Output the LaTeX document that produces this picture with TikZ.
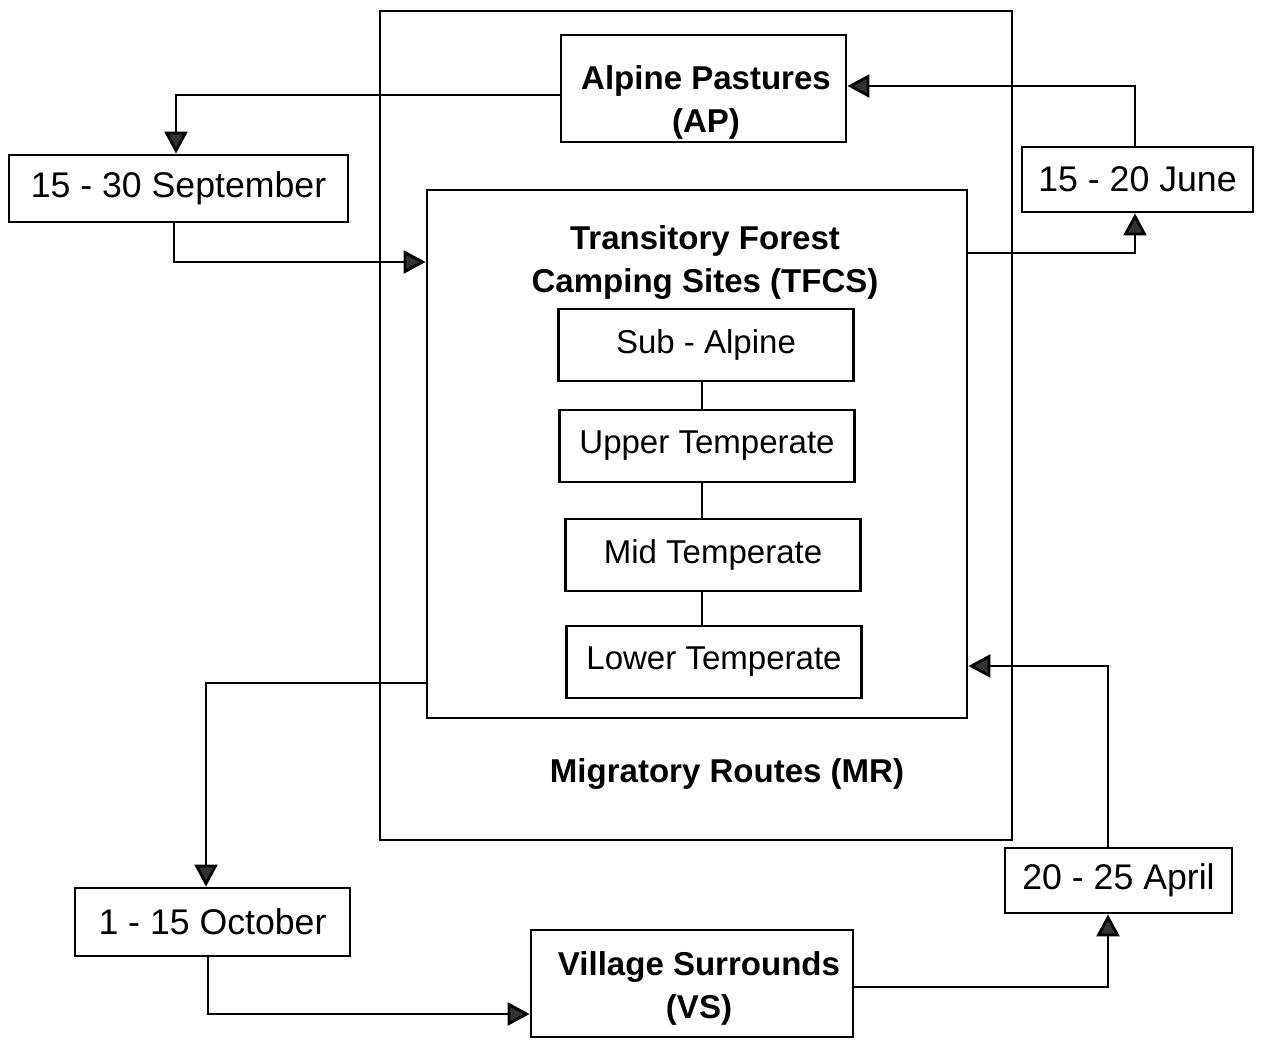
\documentclass[tikz,border=0pt]{standalone}
\usepackage{fontspec}
\setmainfont{Liberation Sans}
\usetikzlibrary{arrows.meta}

\tikzset{
    size/.style 2 args={minimum width=#1*0.02cm, minimum height=#2*0.02cm},
    box/.style={draw, line width=1.6pt, inner sep=0pt, align=center},
    datebox/.style={box, font=\fontsize{20.3}{24}\selectfont},
    zone/.style={box, size={295}{72}, font=\fontsize{18.8}{23}\selectfont},
    title/.style={align=center, font=\bfseries\fontsize{18.8}{24.5}\selectfont},
    flow/.style={line width=1.6pt, -{Triangle[length=12.5pt, width=13pt, fill=black!80]}}
}

\begin{document}
\begin{tikzpicture}[x=0.02cm, y=-0.02cm]
    \useasboundingbox (0,0) rectangle (1264,1044);

    % outer and inner frames
    \node[box, size={632}{829}] (mr) at (696,425.5) {};
    \node[title] (mrtext) at (727,774) {Migratory Routes (MR)};
    \node[box, size={540}{528}] (tfcs) at (697,454) {};
    \node[title] (tfcstext) at (705,263) {Transitory Forest\\Camping Sites (TFCS)};

    % forest zones
    \foreach \i/\x/\y/\txt in {1/706/345/Sub - Alpine, 2/707/446/Upper Temperate,
                               3/713/555/Mid Temperate, 4/714/662/Lower Temperate}
        \node[zone] (z\i) at (\x,\y) {\txt};
    \foreach \i/\j in {1/2, 2/3, 3/4}
        \draw[line width=1.6pt] (z\i.south -| 702,0) -- (z\j.north -| 702,0);

    % sites
    \node[box, size={285}{107}] (ap) at (703.5,88.5) {};
    \node[title] (aptext) at (706,102) {Alpine Pastures\\(AP)};
    \node[box, size={322}{107}] (vs) at (692,983.5) {};
    \node[title] (vstext) at (699,988) {Village Surrounds\\(VS)};

    % dates
    \node[datebox, size={339}{67}] (sep) at (178.5,188.5) {15 - 30 September};
    \node[datebox, size={231}{65}] (june) at (1137.5,179.5) {15 - 20 June};
    \node[datebox, size={275}{68}] (oct) at (212.5,922) {1 - 15 October};
    \node[datebox, size={227}{65}] (april) at (1118.5,880.5) {20 - 25 April};

    \draw[flow] (ap.west |- 0,95) -| (sep.north -| 176,0);
    \draw[flow] (sep.south -| 174,0) |- (tfcs.west |- 0,262);
    \draw[flow] (tfcs.east |- 0,253) -| (june.south -| 1135,0);
    \draw[flow] (june.north -| 1135,0) |- (ap.east |- 0,86);
    \draw[flow] (tfcs.west |- 0,683) -| (oct.north -| 206,0);
    \draw[flow] (oct.south -| 208,0) |- (vs.west |- 0,1014);
    \draw[flow] (vs.east |- 0,987) -| (april.south -| 1108,0);
    \draw[flow] (april.north -| 1108,0) |- (tfcs.east |- 0,666);
\end{tikzpicture}
\end{document}
